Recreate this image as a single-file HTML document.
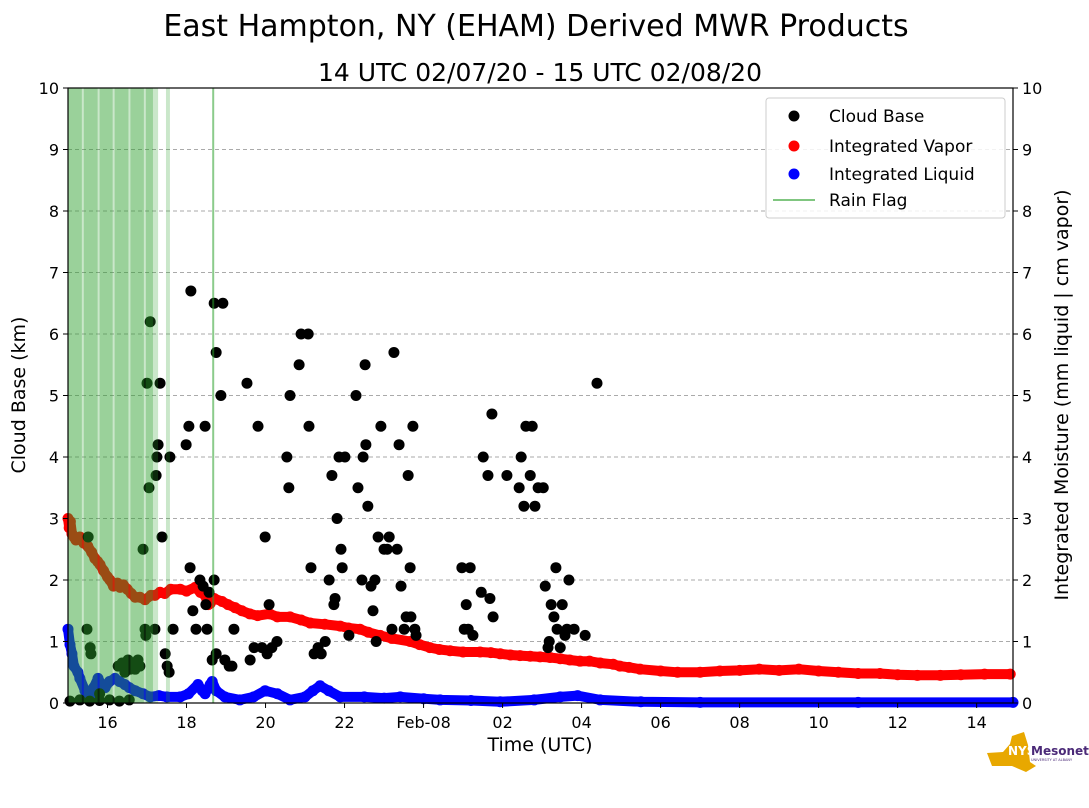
<!DOCTYPE html>
<html><head><meta charset="utf-8"><style>
body{margin:0;background:#fff;width:1089px;height:804px;overflow:hidden;font-family:"DejaVu Sans","Liberation Sans",sans-serif}
</style></head><body>
<svg id="chart" width="1089" height="804" xmlns="http://www.w3.org/2000/svg" font-family="DejaVu Sans, Liberation Sans, sans-serif">
<text x="536" y="36" font-size="30" text-anchor="middle">East Hampton, NY (EHAM) Derived MWR Products</text>
<text x="540" y="81" font-size="25" text-anchor="middle">14 UTC 02/07/20 - 15 UTC 02/08/20</text>
<g id="grid"></g><g id="series"></g><g id="rain"></g><g id="axes"></g>
<text transform="translate(25,395) rotate(-90)" font-size="19" text-anchor="middle">Cloud Base (km)</text>
<text transform="translate(1068,395) rotate(-90)" font-size="19" text-anchor="middle">Integrated Moisture (mm liquid | cm vapor)</text>
<text x="540" y="751" font-size="19" text-anchor="middle">Time (UTC)</text>
<g>
<rect x="766" y="98" width="239" height="120" rx="3" fill="#fff" fill-opacity="0.85" stroke="#ccc"/>
<circle cx="794" cy="116" r="5.5" fill="#000"/><text x="829" y="122" font-size="17">Cloud Base</text>
<circle cx="794" cy="146" r="5.5" fill="red"/><text x="829" y="152" font-size="17">Integrated Vapor</text>
<circle cx="794" cy="174" r="5.5" fill="blue"/><text x="829" y="180" font-size="17">Integrated Liquid</text>
<line x1="773" y1="200" x2="815" y2="200" stroke="#2ca02c" stroke-opacity="0.6" stroke-width="2"/><text x="829" y="206" font-size="17">Rain Flag</text>
</g>
<g>
<path d="M987 753 L1003 752 L1010 744 L1012 736 L1024 732 L1028 745 L1030 762 L1036 766 L1026 772 L1012 766 L992 766 Z" fill="#e8a800"/>
<text x="1008" y="755" font-size="12" font-weight="bold" fill="#fff">NYS</text>
<text x="1031" y="755" font-size="12" font-weight="bold" fill="#4b2a78">Mesonet</text>
<text x="1031" y="761" font-size="3.5" fill="#4b2a78">UNIVERSITY AT ALBANY</text>
</g>
</svg>
<script>
// hours since 15 UTC 02/07
const xTickHours=[1,3,5,7,9,11,13,15,17,19,21,23];
const xTickLabels=["16","18","20","22","Feb-08","02","04","06","08","10","12","14"];
const yTicks=[0,1,2,3,4,5,6,7,8,9,10];
const rainStart=[0,0.4,0.8,1.18,1.58,1.97,0,2.15,2.48,3.65];
const rainEnd=[0.35,0.75,1.13,1.53,1.92,2.15,2.15,2.28,2.58,3.7];
const rainAlpha=[0.3,0.3,0.3,0.3,0.3,0.3,0.25,0.25,0.25,0.55];
const cbTime=[0.51,0.48,0.56,0.58,1.9,2.08,2.0,2.05,2.33,2.28,2.25,2.23,2.38,2.2,1.95,1.97,2.46,2.51,2.56,2.58,2.66,3.11,3.06,2.99,3.09,3.16,3.24,3.34,3.42,3.47,3.49,3.52,3.57,3.7,3.75,3.7,3.65,3.75,3.87,3.92,3.97,4.08,4.15,4.2,4.53,4.61,4.71,4.81,4.99,4.91,5.04,5.09,5.16,5.29,5.54,5.62,5.59,5.85,5.9,6.08,6.1,6.15,6.23,6.33,6.41,6.51,6.61,6.68,6.73,6.76,6.81,6.91,6.86,7.01,6.94,7.11,7.29,7.34,7.44,7.47,7.52,7.54,7.59,7.67,7.72,7.77,7.85,7.8,7.92,8.0,8.08,8.13,8.2,8.25,8.33,8.38,8.43,8.51,8.56,8.61,8.66,8.73,8.78,8.81,8.68,
9.97,10.03,10.08,10.13,10.18,10.25,10.46,10.51,10.63,10.68,10.73,10.76,11.11,11.42,11.47,11.54,11.59,11.7,11.75,11.82,11.9,12.03,12.08,12.15,12.18,12.23,12.3,12.35,12.38,12.46,12.51,12.58,12.63,12.68,12.81,13.09,13.39,
0.05,0.3,0.55,0.8,1.05,1.3,1.55,0.8,1.27,1.37,1.52,1.62,1.7,1.77,1.82,1.44,1.57];
const cbKm=[2.7,1.2,0.9,0.8,2.5,6.2,5.2,3.5,5.2,4.2,4.0,3.7,2.7,1.2,1.2,1.1,0.8,0.6,0.5,4.0,1.2,6.7,4.5,4.2,2.2,1.5,1.2,2.0,1.9,4.5,1.6,1.2,1.8,6.5,5.7,2.0,0.7,0.8,5.0,6.5,0.7,0.6,0.6,1.2,5.2,0.7,0.9,4.5,2.7,0.9,0.8,1.6,0.9,1.0,4.0,5.0,3.5,5.5,6.0,6.0,4.5,2.2,0.8,0.9,0.8,1.0,2.0,3.7,1.6,1.7,3.0,2.5,4.0,4.0,2.2,1.1,5.0,3.5,2.0,4.0,5.5,4.2,3.2,1.9,1.5,2.0,2.7,1.0,4.5,2.5,2.5,2.7,1.2,5.7,2.5,4.2,1.9,1.2,1.4,3.7,2.2,4.5,1.2,1.1,1.4,
2.2,1.2,1.6,1.2,2.2,1.1,1.8,4.0,3.7,1.7,4.7,1.4,3.7,3.5,4.0,3.2,4.5,3.7,4.5,3.2,3.5,3.5,1.9,0.9,1.0,1.6,1.4,2.2,1.2,0.9,1.6,1.1,1.2,2.0,1.2,1.1,5.2,
0.03,0.05,0.03,0.04,0.05,0.03,0.05,0.15,0.6,0.65,0.7,0.6,0.55,0.7,0.6,0.5,0.55];
const vapTime=[0,0.03,0.06,0.1,0.15,0.2,0.3,0.4,0.5,0.6,0.68,0.75,0.81,0.9,1.0,1.06,1.15,1.25,1.32,1.4,1.5,1.6,1.7,1.82,1.95,2.1,2.2,2.33,2.45,2.6,2.84,3.0,3.22,3.35,3.47,3.55,3.6,3.7,3.9,4.05,4.23,4.4,4.6,4.8,5.1,5.3,5.62,5.9,6.13,6.5,6.89,7.1,7.39,7.6,7.9,8.2,8.66,8.9,9.16,9.4,9.67,10.0,10.43,10.7,10.94,11.2,11.44,11.7,11.95,12.2,12.46,12.7,12.96,13.2,13.47,13.8,13.97,14.2,14.48,15.0,15.43,16.0,16.5,17.0,17.5,18.0,18.5,19.0,19.5,20.0,20.55,21.0,21.5,22.08,22.6,23.2,23.85];
const vapCm=[3.0,2.85,2.95,2.75,2.7,2.65,2.7,2.6,2.55,2.45,2.35,2.3,2.25,2.15,2.05,2.0,1.9,1.95,1.88,1.92,1.85,1.78,1.72,1.72,1.68,1.75,1.75,1.8,1.78,1.85,1.85,1.82,1.88,1.8,1.75,1.6,1.62,1.7,1.65,1.6,1.55,1.5,1.45,1.42,1.45,1.4,1.4,1.35,1.3,1.28,1.25,1.22,1.2,1.15,1.1,1.05,1.0,0.95,0.9,0.87,0.85,0.83,0.83,0.82,0.8,0.78,0.77,0.76,0.75,0.74,0.72,0.7,0.68,0.68,0.65,0.63,0.6,0.58,0.55,0.52,0.5,0.5,0.52,0.53,0.55,0.53,0.55,0.52,0.5,0.48,0.48,0.46,0.45,0.45,0.46,0.47,0.47];
const liqTime=[0,0.05,0.1,0.15,0.25,0.3,0.43,0.5,0.56,0.65,0.76,0.85,0.94,1.05,1.19,1.3,1.44,1.55,1.7,1.9,2.08,2.3,2.5,2.84,3.05,3.29,3.4,3.47,3.6,3.65,3.75,3.97,4.35,4.7,4.99,5.3,5.62,6.0,6.2,6.38,6.6,6.89,7.5,8.0,8.41,9.0,9.42,10.2,10.94,11.8,12.46,12.9,13.47,14.5,16.0,20.0,23.92];
const liqMm=[1.2,0.95,0.8,0.6,0.5,0.4,0.2,0.15,0.1,0.25,0.4,0.3,0.25,0.35,0.4,0.35,0.3,0.25,0.2,0.15,0.1,0.12,0.1,0.1,0.15,0.3,0.2,0.15,0.3,0.35,0.2,0.1,0.05,0.1,0.2,0.15,0.05,0.1,0.2,0.28,0.2,0.1,0.1,0.08,0.1,0.07,0.05,0.04,0.02,0.05,0.1,0.12,0.05,0.02,0.01,0.01,0.01];

const X0=68,X1=1013,Y0=703,Y1=88,TMAX=23.92;
const xs=t=>X0+(t/TMAX)*(X1-X0);
const ys=v=>Y0-(v/10)*(Y0-Y1);
const NS="http://www.w3.org/2000/svg";
function mk(tag,parent,attrs){const e=document.createElementNS(NS,tag);for(const k in attrs)e.setAttribute(k,attrs[k]);parent.appendChild(e);return e;}
const grid=document.getElementById('grid'),rl=document.getElementById('rain'),ser=document.getElementById('series'),ax=document.getElementById('axes');
yTicks.forEach(v=>{
 if(v>0&&v<10){const g=mk('line',grid,{x1:X0,x2:X1,y1:ys(v),y2:ys(v),stroke:'#aaa','stroke-dasharray':'4,3','stroke-width':1});
 }
 mk('line',ax,{x1:X0-5,x2:X0,y1:ys(v),y2:ys(v),stroke:'#000'});
 mk('line',ax,{x1:X1,x2:X1+5,y1:ys(v),y2:ys(v),stroke:'#000'});
 const a=mk('text',ax,{x:X0-9,y:ys(v)+6,'font-size':16,'text-anchor':'end'});a.textContent=v;
 
 const b=mk('text',ax,{x:X1+9,y:ys(v)+6,'font-size':16});b.textContent=v;
 
});
xTickHours.forEach((h,i)=>{
 mk('line',ax,{x1:xs(h),x2:xs(h),y1:Y0,y2:Y0+5,stroke:'#000'});
 const t=mk('text',ax,{x:xs(h),y:Y0+25,'font-size':16,'text-anchor':'middle'});t.textContent=xTickLabels[i];
 
});
mk('rect',ax,{x:X0,y:Y1,width:X1-X0,height:Y0-Y1,fill:'none',stroke:'#000','stroke-width':1.2});
function linePts(T,V){return T.map((t,i)=>xs(t).toFixed(1)+','+ys(V[i]).toFixed(1)).join(' ');}
const lp=mk('polyline',ser,{points:linePts(liqTime,liqMm),fill:'none',stroke:'blue','stroke-width':10,'stroke-linejoin':'round','stroke-linecap':'round'});

liqTime.forEach((t,i)=>{const c=mk('circle',ser,{cx:xs(t),cy:ys(liqMm[i]),r:5.5,fill:'blue'});
 });
const vp=mk('polyline',ser,{points:linePts(vapTime,vapCm),fill:'none',stroke:'red','stroke-width':10,'stroke-linejoin':'round','stroke-linecap':'round'});

vapTime.forEach((t,i)=>{const c=mk('circle',ser,{cx:xs(t),cy:ys(vapCm[i]),r:5.5,fill:'red'});
 });
cbTime.forEach((t,i)=>{const c=mk('circle',ser,{cx:xs(t),cy:ys(cbKm[i]),r:5.5,fill:'#000'});
 });
rainStart.forEach((s,i)=>{const r=mk('rect',rl,{x:xs(s),y:Y1,width:Math.max(2,xs(rainEnd[i])-xs(s)),height:Y0-Y1,fill:'#2ca02c','fill-opacity':rainAlpha[i]});
 });
</script>
</body></html>
